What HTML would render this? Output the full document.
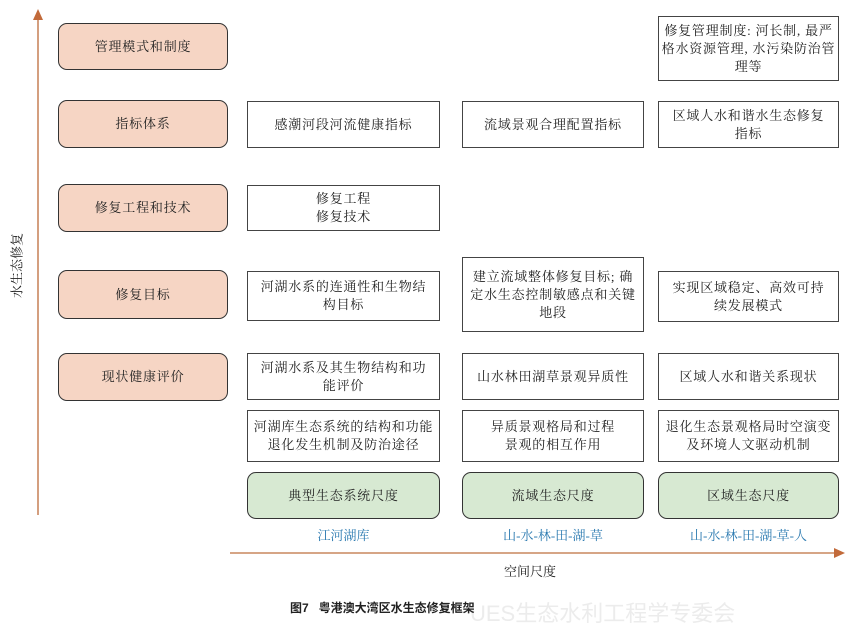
<!DOCTYPE html>
<html><head><meta charset="utf-8"><style>
body{margin:0;width:852px;height:617px;background:#fff;position:relative;overflow:hidden;font-family:"Liberation Serif","Noto Serif CJK SC",serif;color:#222}
.b{position:absolute;box-sizing:border-box;border:1.5px solid #444;display:flex;align-items:center;justify-content:center;text-align:center;font-size:13px;line-height:18px;padding:0 4px;white-space:nowrap;letter-spacing:0.8px}
.o{background:#f6d5c4;border-radius:9px;border-color:#333}
.g{background:#d7e9d2;border-radius:9px;border-color:#333}
.t{position:absolute;font-size:13px;text-align:center;white-space:nowrap}
.bl{color:#2a79b0}
</style></head><body>
<svg style="position:absolute;left:0;top:0" width="852" height="617">
<line x1="38" y1="18" x2="38" y2="515" stroke="#c9875f" stroke-width="1.6"/>
<polygon points="33,20 43,20 38,9" fill="#c26a3a"/>
<line x1="230" y1="553" x2="836" y2="553" stroke="#c9875f" stroke-width="1.6"/>
<polygon points="834,548 834,558 845,553" fill="#c26a3a"/>
</svg>
<div class="t" style="left:-24px;top:256px;width:80px;transform:rotate(-90deg);font-size:13px">水生态修复</div>

<div class="b o" style="left:58px;top:23px;width:170px;height:47px">管理模式和制度</div>
<div class="b o" style="left:58px;top:100px;width:170px;height:48px">指标体系</div>
<div class="b o" style="left:58px;top:184px;width:170px;height:48px">修复工程和技术</div>
<div class="b o" style="left:58px;top:270px;width:170px;height:49px">修复目标</div>
<div class="b o" style="left:58px;top:353px;width:170px;height:48px">现状健康评价</div>

<div class="b" style="left:658px;top:16px;width:181px;height:65px">修复管理制度: 河长制, 最严<br>格水资源管理, 水污染防治管<br>理等</div>

<div class="b" style="left:247px;top:101px;width:193px;height:47px">感潮河段河流健康指标</div>
<div class="b" style="left:462px;top:101px;width:182px;height:47px">流域景观合理配置指标</div>
<div class="b" style="left:658px;top:101px;width:181px;height:47px">区域人水和谐水生态修复<br>指标</div>

<div class="b" style="left:247px;top:185px;width:193px;height:46px">修复工程<br>修复技术</div>

<div class="b" style="left:247px;top:271px;width:193px;height:50px">河湖水系的连通性和生物结<br>构目标</div>
<div class="b" style="left:462px;top:257px;width:182px;height:75px">建立流域整体修复目标; 确<br>定水生态控制敏感点和关键<br>地段</div>
<div class="b" style="left:658px;top:271px;width:181px;height:51px">实现区域稳定、高效可持<br>续发展模式</div>

<div class="b" style="left:247px;top:353px;width:193px;height:47px">河湖水系及其生物结构和功<br>能评价</div>
<div class="b" style="left:462px;top:353px;width:182px;height:47px">山水林田湖草景观异质性</div>
<div class="b" style="left:658px;top:353px;width:181px;height:47px">区域人水和谐关系现状</div>

<div class="b" style="left:247px;top:410px;width:193px;height:52px">河湖库生态系统的结构和功能<br>退化发生机制及防治途径</div>
<div class="b" style="left:462px;top:410px;width:182px;height:52px">异质景观格局和过程<br>景观的相互作用</div>
<div class="b" style="left:658px;top:410px;width:181px;height:52px">退化生态景观格局时空演变<br>及环境人文驱动机制</div>

<div class="b g" style="left:247px;top:472px;width:193px;height:47px">典型生态系统尺度</div>
<div class="b g" style="left:462px;top:472px;width:182px;height:47px">流域生态尺度</div>
<div class="b g" style="left:658px;top:472px;width:181px;height:47px">区域生态尺度</div>

<div class="t bl" style="left:247px;top:525px;width:193px">江河湖库</div>
<div class="t bl" style="left:462px;top:525px;width:182px">山-水-林-田-湖-草</div>
<div class="t bl" style="left:658px;top:525px;width:181px">山-水-林-田-湖-草-人</div>

<div class="t" style="left:480px;top:561px;width:100px">空间尺度</div>
<div class="t" style="left:470px;top:596px;font-family:'Liberation Sans','Noto Sans CJK SC',sans-serif;font-size:22px;color:#ececec;text-align:left">UES生态水利工程学专委会</div>
<div class="t" style="left:290px;top:599px;font-family:'Liberation Sans','Noto Sans CJK SC',sans-serif;font-size:12px;font-weight:bold;text-align:left">图7&nbsp;&nbsp;&nbsp;粤港澳大湾区水生态修复框架</div>
</body></html>
